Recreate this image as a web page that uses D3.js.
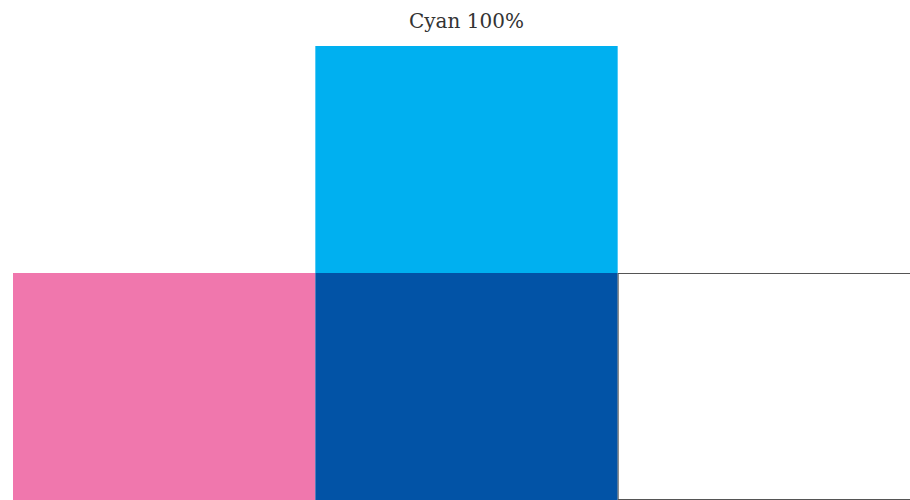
<!DOCTYPE html>
<html>
<head>
<meta charset="utf-8">
<script src="https://cdn.jsdelivr.net/npm/d3@7"></script>
<style>
    body { margin: 0; background: #fff; }
    svg { display: block; }
</style>
</head>
<body>
<script>
// Chart data
const title = 'Cyan 100%';
const columns = ['c0', 'c1', 'c2'];
const rows = ['r0', 'r1'];
const cellColumns = ['c1', 'c0', 'c1', 'c2'];
const cellRows = ['r0', 'r1', 'r1', 'r1'];
const cellFills = ['#00b0f0', '#f077ad', '#0253a6', '#ffffff'];
const cellStrokes = ['none', 'none', 'none', '#555555'];

const width = 910;
const height = 500;

const svg = d3.select('body')
    .append('svg')
    .attr('width', width)
    .attr('height', height);

// Grid scales (third column runs past the right edge, like the reference)
const x = d3.scaleBand()
    .domain(columns)
    .range([13, 920]);

const y = d3.scaleBand()
    .domain(rows)
    .range([46, 500]);

const cells = cellColumns.map((c, i) => ({
    col: c,
    row: cellRows[i],
    fill: cellFills[i],
    stroke: cellStrokes[i]
}));

svg.selectAll('rect.cell')
    .data(cells)
    .enter()
    .append('rect')
    .attr('class', 'cell')
    .attr('x', d => d.stroke === 'none' ? x(d.col) : x(d.col) + 0.5)
    .attr('y', d => d.stroke === 'none' ? y(d.row) : y(d.row) + 0.5)
    .attr('width', x.bandwidth())
    .attr('height', d => d.stroke === 'none' ? y.bandwidth() : y.bandwidth() - 1)
    .style('fill', d => d.fill)
    .style('stroke', d => d.stroke)
    .style('stroke-width', 1);

// Title
svg.append('text')
    .attr('x', x('c1') + x.bandwidth() / 2)
    .attr('y', 28)
    .attr('text-anchor', 'middle')
    .style('font-family', '"DejaVu Serif", serif')
    .style('font-size', '20px')
    .style('fill', '#333')
    .text(title);
</script>
</body>
</html>
